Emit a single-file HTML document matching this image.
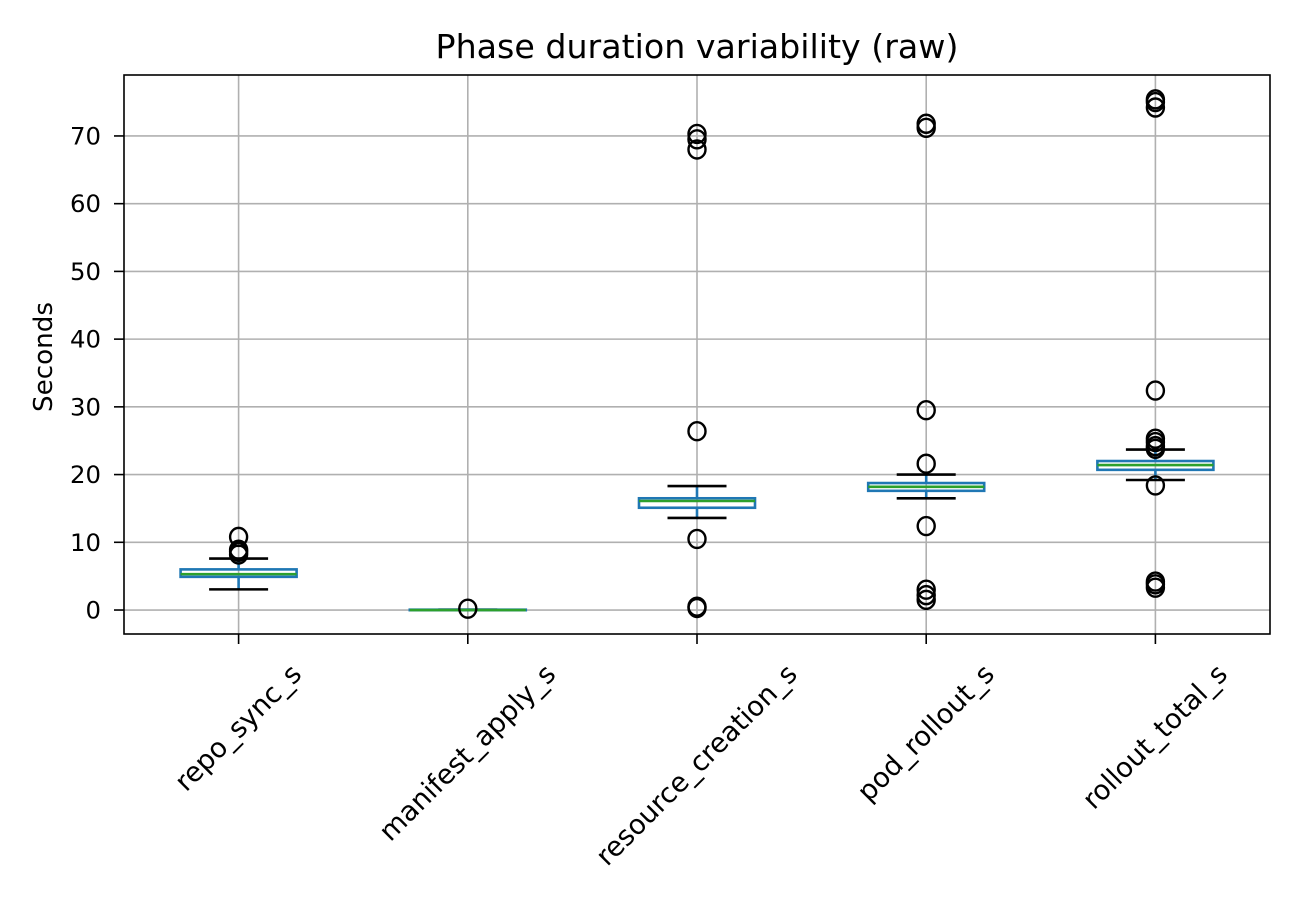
<!DOCTYPE html>
<html><head><meta charset="utf-8"><style>
body{margin:0;background:#fff;}
svg{display:block;font-family:"DejaVu Sans","Liberation Sans",sans-serif;}
</style></head><body>
<svg id="chart" width="1300" height="900" xmlns="http://www.w3.org/2000/svg">
<text id="title" x="697" y="58" font-size="32" text-anchor="middle">Phase duration variability (raw)</text>
<text id="ylab" transform="translate(52,357) rotate(-90)" font-size="24" text-anchor="middle">Seconds</text>
<g id="grid"></g><g id="marks"></g><g id="axes"></g>
</svg>
<script>
const categories = ["repo_sync_s","manifest_apply_s","resource_creation_s","pod_rollout_s","rollout_total_s"];
const q1 = [4.9, 0.0, 15.1, 17.6, 20.7];
const median = [5.3, 0.0, 16.1, 18.2, 21.4];
const q3 = [6.0, 0.05, 16.5, 18.75, 22.0];
const whiskLo = [3.05, 0.0, 13.6, 16.5, 19.2];
const whiskHi = [7.6, 0.05, 18.3, 20.0, 23.7];
const outliers = [
  [10.8, 8.9, 8.6, 8.2],
  [0.2],
  [70.3, 69.5, 68.0, 26.4, 10.5, 0.5, 0.3],
  [71.8, 71.2, 29.5, 21.6, 12.4, 3.0, 2.2, 1.5],
  [75.4, 75.0, 74.2, 32.4, 25.3, 24.8, 24.2, 23.8, 18.4, 4.2, 3.8, 3.3]
];
const yTicks = [0,10,20,30,40,50,60,70];

const NS="http://www.w3.org/2000/svg";
const L=124,R=1270,T=75,B=634;
const yMin=-3.54,yMax=79.0;
const y=v=>B-(v-yMin)/(yMax-yMin)*(B-T);
const step=(R-L)/categories.length;
const x=i=>L+step*(i+0.5);
function mk(tag,attrs,parent){const e=document.createElementNS(NS,tag);for(const k in attrs)e.setAttribute(k,attrs[k]);parent.appendChild(e);return e;}
function fit(el,base,target){el.setAttribute('font-size',base);const w=el.getComputedTextLength();const fs=base*target/w;el.setAttribute('font-size',fs);return fs;}
const grid=document.getElementById('grid'),marks=document.getElementById('marks'),axes=document.getElementById('axes');
fit(document.getElementById('title'),32,523);
fit(document.getElementById('ylab'),24,110);
const probe=mk('text',{x:0,y:-100,'font-size':24},axes);
probe.textContent='40';
const FS=fit(probe,24,31);
probe.remove();
const XFS=FS*1.12;
yTicks.forEach(t=>{
  const g=mk('line',{x1:L,x2:R,y1:y(t),y2:y(t),stroke:'#b0b0b0','stroke-width':1.6},grid);
  
  
  const tk=mk('line',{x1:L-10,x2:L,y1:y(t),y2:y(t),stroke:'#000','stroke-width':1.6},axes);
  
  
  const tx=mk('text',{x:L-23,y:y(t),'font-size':FS,'text-anchor':'end','dominant-baseline':'central'},axes);
  tx.textContent=t;
  
  
});
categories.forEach((c,i)=>{
  const cx=x(i);
  const g=mk('line',{x1:cx,x2:cx,y1:T,y2:B,stroke:'#b0b0b0','stroke-width':1.6},grid);
  
  
  const tk=mk('line',{x1:cx,x2:cx,y1:B,y2:B+10,stroke:'#000','stroke-width':1.6},axes);
  
  
  const tx=mk('text',{x:0,y:0,'font-size':XFS,'text-anchor':'middle','dominant-baseline':'central'},axes);
  tx.textContent=c;
  
  
  const len=tx.getComputedTextLength();
  const half=(len+XFS)*0.7071/2;
  tx.setAttribute('transform',`translate(${cx},${B+26+half}) rotate(-45)`);
  const grp=mk('g',{},marks);
  
  
  const bw=58,cw=29.5;
  mk('line',{x1:cx,x2:cx,y1:y(q3[i]),y2:y(whiskHi[i]),stroke:'#1f77b4','stroke-width':2.6},grp);
  mk('line',{x1:cx,x2:cx,y1:y(q1[i]),y2:y(whiskLo[i]),stroke:'#1f77b4','stroke-width':2.6},grp);
  mk('line',{x1:cx-cw,x2:cx+cw,y1:y(whiskHi[i]),y2:y(whiskHi[i]),stroke:'#000','stroke-width':2.6},grp);
  mk('line',{x1:cx-cw,x2:cx+cw,y1:y(whiskLo[i]),y2:y(whiskLo[i]),stroke:'#000','stroke-width':2.6},grp);
  mk('rect',{x:cx-bw,y:y(q3[i]),width:2*bw,height:Math.max(0.5,y(q1[i])-y(q3[i])),fill:'none',stroke:'#1f77b4','stroke-width':2.6},grp);
  mk('line',{x1:cx-bw,x2:cx+bw,y1:y(median[i]),y2:y(median[i]),stroke:'#2ca02c','stroke-width':2.6},grp);
  outliers[i].forEach(v=>{
    const o=mk('ellipse',{cx:cx,cy:y(v),rx:8.5,ry:9,fill:'none',stroke:'#000','stroke-width':2.4},grp);
    
    
  });
});
const fr=mk('rect',{x:L,y:T,width:R-L,height:B-T,fill:'none',stroke:'#000','stroke-width':1.6},axes);


</script>
</body></html>
